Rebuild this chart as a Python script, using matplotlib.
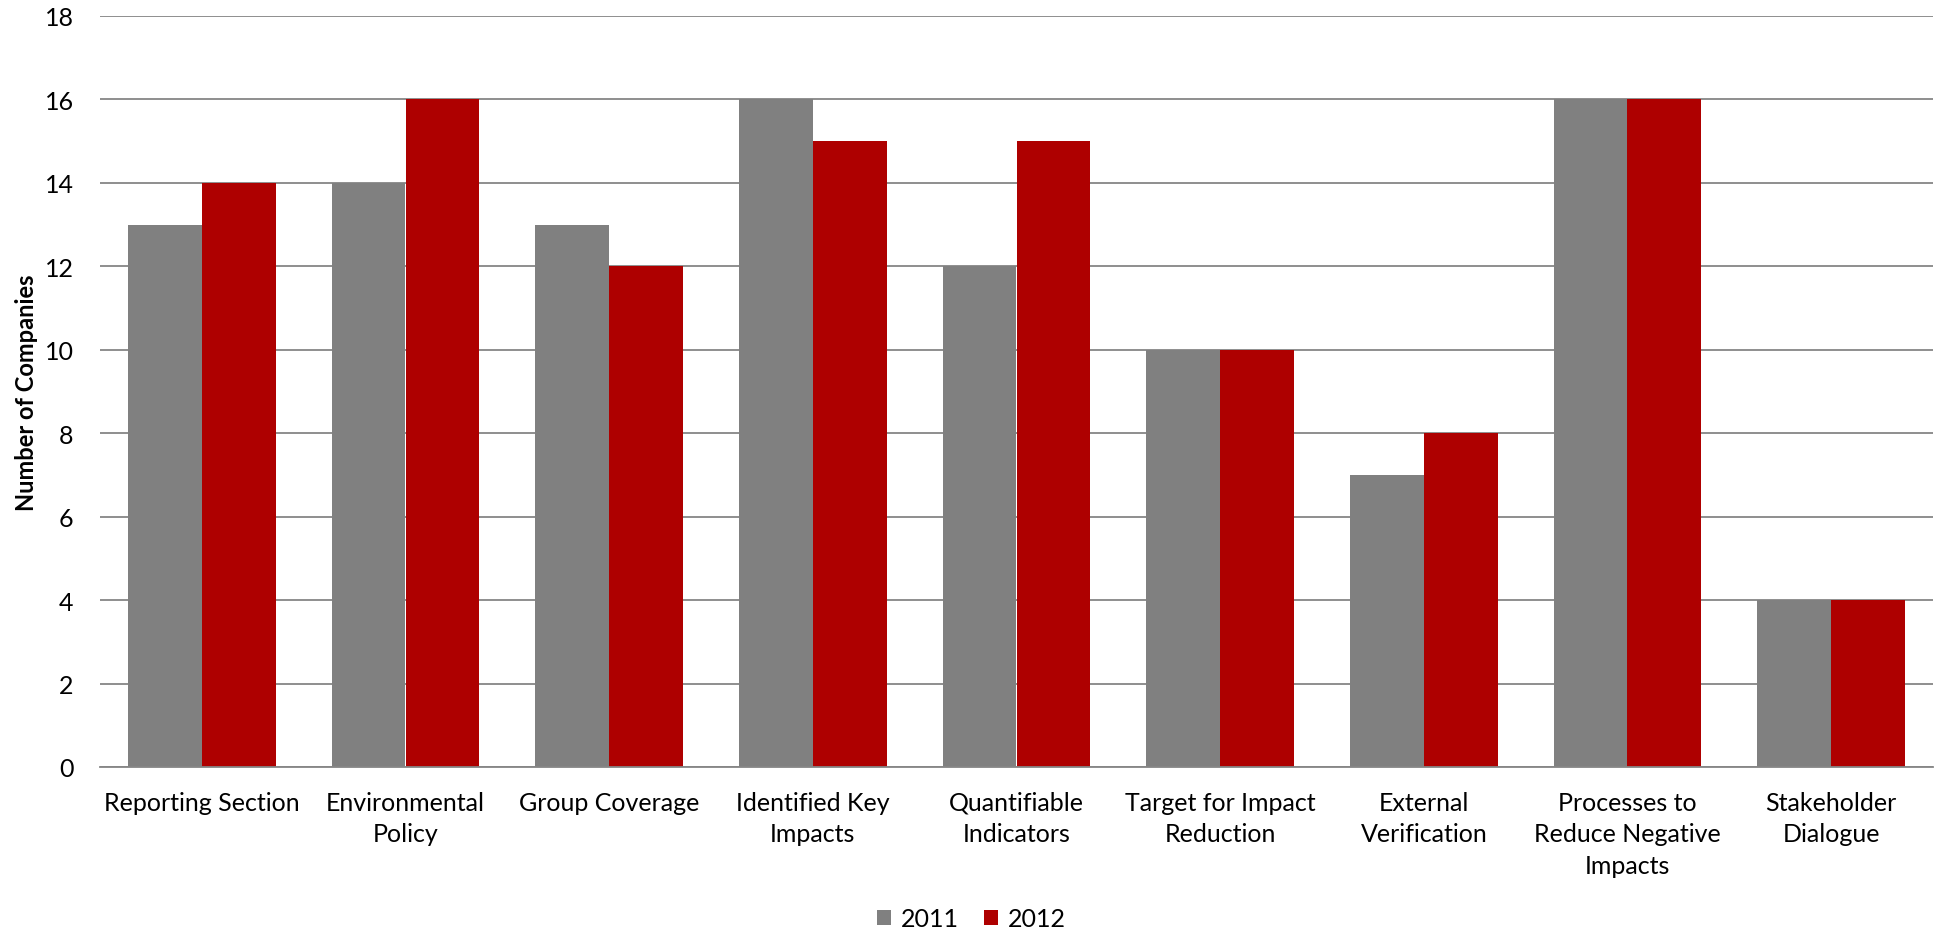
import numpy as np
import matplotlib
matplotlib.use("Agg")
import matplotlib.pyplot as plt

categories = [
    "Reporting Section",
    "Environmental\nPolicy",
    "Group Coverage",
    "Identified Key\nImpacts",
    "Quantifiable\nIndicators",
    "Target for Impact\nReduction",
    "External\nVerification",
    "Processes to\nReduce Negative\nImpacts",
    "Stakeholder\nDialogue",
]
values_2011 = [13, 14, 13, 16, 12, 10, 7, 16, 4]
values_2012 = [14, 16, 12, 15, 15, 10, 8, 16, 4]
y_ticks = [0, 2, 4, 6, 8, 10, 12, 14, 16, 18]

plt.rcParams['font.family'] = ['Lato', 'DejaVu Sans']

fig = plt.figure(figsize=(19.43, 9.37), dpi=100)
ax = fig.add_axes([100 / 1943, 1 - 768 / 937, 1833 / 1943, 751 / 937])

x = np.arange(len(categories))
w = 0.363
ax.bar(x - w / 2, values_2011, w, color="#808080", label="2011", zorder=3)
ax.bar(x + w / 2, values_2012, w, color="#AE0000", label="2012", zorder=3)

ax.set_xlim(-0.5, len(categories) - 0.5)
ax.set_ylim(0, 18)
ax.set_yticks(y_ticks)
ax.set_xticks(x)
ax.set_xticklabels(categories, fontsize=18, linespacing=1.45, va="top")
ax.tick_params(axis="x", length=0, pad=17)
ax.tick_params(axis="y", length=0, pad=19, labelsize=18)
ax.yaxis.grid(True, color="#868686", linewidth=1.3, zorder=0)
for s in ["top", "right", "left"]:
    ax.spines[s].set_visible(False)
ax.spines["bottom"].set_color("#868686")
ax.spines["bottom"].set_linewidth(1.3)
ax.spines["bottom"].set_zorder(4)

ax.set_ylabel("Number of Companies", fontsize=17, fontweight="bold")
ax.yaxis.set_label_coords(-62 / 1833, 0.5)

fig.legend(loc="center", bbox_to_anchor=(0.5, 1 - 920 / 937), ncol=2, frameon=False,
           fontsize=18, handlelength=0.55, handleheight=0.55, handletextpad=0.4,
           columnspacing=1.0)

fig.savefig("out.png", dpi=100)
